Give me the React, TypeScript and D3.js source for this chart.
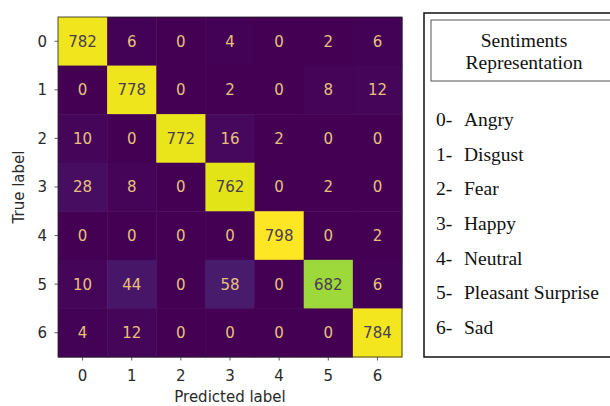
import React from 'react';
import * as d3 from 'd3';

// confusion matrix counts, rows = true label, cols = predicted label
const classLabels = ['0', '1', '2', '3', '4', '5', '6'];
const matrix = [
  [782, 6, 0, 4, 0, 2, 6],
  [0, 778, 0, 2, 0, 8, 12],
  [10, 0, 772, 16, 2, 0, 0],
  [28, 8, 0, 762, 0, 2, 0],
  [0, 0, 0, 0, 798, 0, 2],
  [10, 44, 0, 58, 0, 682, 6],
  [4, 12, 0, 0, 0, 0, 784],
];
const sentiments = ['Angry', 'Disgust', 'Fear', 'Happy', 'Neutral', 'Pleasant Surprise', 'Sad'];
const legendTitle = ['Sentiments', 'Representation'];

const W = 610;
const H = 406;
const plot = { left: 58, top: 17, right: 402, bottom: 357 };
const mplFont = '"DejaVu Sans", sans-serif';
const serifFont = '"Liberation Serif", "Times New Roman", serif';
const fs = 15;

const App = () => {
  const x = d3.scaleBand().domain(classLabels).range([plot.left, plot.right]);
  const y = d3.scaleBand().domain(classLabels).range([plot.top, plot.bottom]);
  const maxVal = d3.max(matrix.flat()) || 1;
  const minVal = d3.min(matrix.flat()) || 0;
  const color = d3.scaleSequential(d3.interpolateViridis).domain([minVal, maxVal]);
  const thresh = (maxVal + minVal) / 2;

  // legend rows
  const legendY = d3.scaleLinear().domain([0, sentiments.length - 1]).range([126, 334]);

  const cells = matrix.flatMap((row, i) =>
    row.map((v, j) => ({ r: classLabels[i], c: classLabels[j], v }))
  );

  return (
    <svg width={W} height={H} style={{ position: 'absolute', left: 0, top: 0, background: '#fff' }}>
      <rect x={0} y={0} width={W} height={H} fill="#fff" />
      <g>
        {cells.map((d, k) => (
          <rect key={k} x={x(d.c)} y={y(d.r)} width={x.bandwidth() + 0.5} height={y.bandwidth() + 0.5} fill={color(d.v)} />
        ))}
        {cells.map((d, k) => (
          <text
            key={'t' + k}
            x={(x(d.c) || 0) + x.bandwidth() / 2}
            y={(y(d.r) || 0) + y.bandwidth() / 2}
            dy="0.36em"
            textAnchor="middle"
            fontFamily={mplFont}
            fontSize={fs}
            fill={d.v < thresh ? '#e8c07c' : '#4a3d55'}
          >
            {d.v}
          </text>
        ))}
        <rect
          x={plot.left}
          y={plot.top}
          width={plot.right - plot.left}
          height={plot.bottom - plot.top}
          fill="none"
          stroke="#222"
          strokeWidth={0.8}
        />
      </g>

      {/* y axis */}
      {classLabels.map((l) => {
        const cy = (y(l) || 0) + y.bandwidth() / 2;
        return (
          <g key={'y' + l}>
            <line x1={plot.left - 3.5} x2={plot.left} y1={cy} y2={cy} stroke="#333" strokeWidth={0.8} />
            <text x={plot.left - 11} y={cy} dy="0.36em" textAnchor="end" fontFamily={mplFont} fontSize={fs} fill="#2a2a2a">
              {l}
            </text>
          </g>
        );
      })}
      {/* x axis */}
      {classLabels.map((l) => {
        const cx = (x(l) || 0) + x.bandwidth() / 2;
        return (
          <g key={'x' + l}>
            <line x1={cx} x2={cx} y1={plot.bottom} y2={plot.bottom + 3.5} stroke="#333" strokeWidth={0.8} />
            <text x={cx} y={plot.bottom + 19} dy="0.36em" textAnchor="middle" fontFamily={mplFont} fontSize={fs} fill="#2a2a2a">
              {l}
            </text>
          </g>
        );
      })}
      <text
        transform={`translate(19,${(plot.top + plot.bottom) / 2}) rotate(-90)`}
        dy="0.36em"
        textAnchor="middle"
        fontFamily={mplFont}
        fontSize={fs}
        fill="#2a2a2a"
      >
        True label
      </text>
      <text
        x={(plot.left + plot.right) / 2}
        y={397}
        dy="0.36em"
        textAnchor="middle"
        fontFamily={mplFont}
        fontSize={fs}
        fill="#2a2a2a"
      >
        Predicted label
      </text>

      {/* sentiment legend box */}
      <rect x={424} y={13} width={200} height={344} fill="#fff" stroke="#111" strokeWidth={1.5} />
      <rect x={431} y={20} width={190} height={61} fill="#fff" stroke="#555" strokeWidth={1} />
      {legendTitle.map((t, i) => (
        <text key={t} x={524} y={47 + i * 21.5} textAnchor="middle" fontFamily={serifFont} fontSize={19.5} fill="#111">
          {t}
        </text>
      ))}
      {sentiments.map((s, i) => (
        <g key={s}>
          <text x={436} y={legendY(i)} fontFamily={serifFont} fontSize={19.5} fill="#111">
            {classLabels[i]}-
          </text>
          <text x={464} y={legendY(i)} fontFamily={serifFont} fontSize={19.5} fill="#111">
            {s}
          </text>
        </g>
      ))}
    </svg>
  );
};

export default App;
